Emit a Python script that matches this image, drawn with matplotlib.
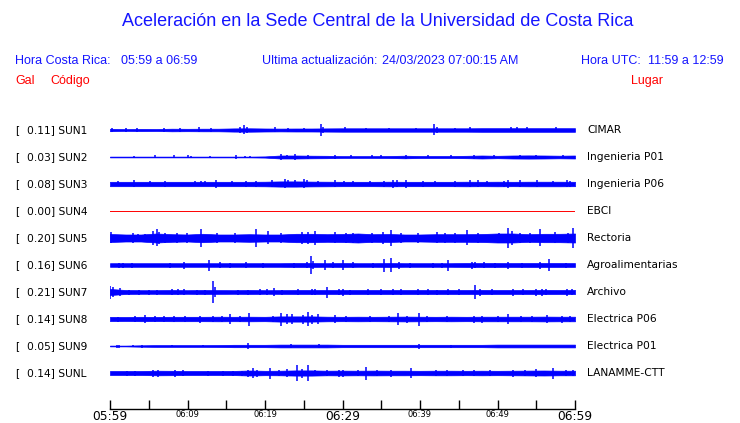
import matplotlib
matplotlib.use("Agg")
import matplotlib.pyplot as plt
from matplotlib.transforms import blended_transform_factory


# station rows, top to bottom
codes = ["SUN1", "SUN2", "SUN3", "SUN4", "SUN5", "SUN6", "SUN7", "SUN8", "SUN9", "SUNL"]
gal_values = [0.11, 0.03, 0.08, 0.00, 0.20, 0.16, 0.21, 0.14, 0.05, 0.14]
places = ["CIMAR", "Ingenieria P01", "Ingenieria P06", "EBCI", "Rectoria", "Agroalimentarias",
          "Archivo", "Electrica P06", "Electrica P01", "LANAMME-CTT"]

# envelope sample times (minutes after 05:59)
env_minutes = list(range(0, 61, 2))

# half-width of each trace band (pixels), every 2 minutes
env_sun1 = [1.2, 0.9, 1.1, 1.0, 1.3, 1.2, 1.3, 1.3, 1.6, 1.7, 1.5, 1.4, 1.5, 1.5, 1.6, 1.7,
            1.7, 1.7, 1.7, 1.7, 1.7, 1.7, 1.7, 1.7, 1.8, 1.8, 1.8, 1.8, 1.8, 1.8, 1.8]
env_sun2 = [0.4, 0.4, 0.4, 0.4, 0.4, 0.4, 0.4, 0.4, 0.4, 0.4, 0.6, 1.5, 1.5, 1.3, 1.2, 0.9,
            0.9, 0.9, 1.0, 1.3, 1.0, 1.0, 1.0, 1.2, 1.5, 1.2, 1.5, 1.6, 1.5, 1.3, 1.5]
env_sun3 = [2.2, 2.2, 2.2, 2.2, 2.2, 2.2, 2.2, 2.2, 2.2, 2.2, 2.3, 2.6, 2.6, 2.4, 2.3, 2.2,
            2.2, 2.2, 2.3, 2.2, 2.2, 2.2, 2.2, 2.3, 2.2, 2.3, 2.2, 2.3, 2.3, 2.3, 2.2]
env_sun4 = [0.4] * 31
env_sun5 = [4.0, 3.5, 3.5, 4.5, 3.8, 3.5, 4.2, 3.5, 3.5, 3.8, 3.5, 3.5, 4.2, 4.2, 3.8, 4.0,
            4.5, 3.8, 4.0, 3.5, 3.5, 3.8, 3.8, 3.8, 4.0, 4.5, 4.5, 3.8, 4.2, 4.2, 4.5]
env_sun6 = [1.8, 1.8, 1.8, 1.8, 1.8, 1.8, 1.8, 1.8, 1.8, 1.8, 1.8, 1.8, 2.0, 2.0, 1.8, 2.0,
            1.8, 1.8, 2.0, 1.8, 1.8, 1.8, 1.8, 2.0, 2.0, 2.0, 1.9, 2.0, 2.0, 2.0, 1.9]
env_sun7 = [3.0, 2.0, 1.8, 1.8, 2.0, 1.8, 2.0, 1.9, 1.8, 2.0, 1.8, 1.9, 2.0, 2.0, 2.0, 2.0,
            2.0, 2.0, 2.0, 2.0, 2.0, 2.0, 2.0, 2.0, 2.1, 2.0, 2.0, 2.0, 2.1, 2.0, 2.1]
env_sun8 = [2.1, 2.0, 2.2, 2.1, 2.2, 2.2, 2.2, 2.3, 2.2, 2.3, 2.2, 2.6, 2.6, 2.6, 2.3, 2.2,
            2.3, 2.2, 2.3, 2.4, 2.3, 2.2, 2.3, 2.2, 2.3, 2.3, 2.3, 2.3, 2.4, 2.3, 2.3]
env_sun9 = [0.4, 0.4, 0.7, 0.9, 0.9, 0.9, 0.9, 1.0, 1.2, 1.2, 1.2, 1.4, 1.4, 1.4, 1.4, 1.2,
            1.2, 1.2, 1.2, 1.2, 1.2, 1.2, 1.2, 1.2, 1.2, 1.4, 1.4, 1.4, 1.4, 1.4, 1.4]
env_sunl = [2.0, 2.0, 2.0, 2.3, 2.2, 2.0, 2.0, 2.0, 2.1, 2.5, 2.2, 2.3, 2.6, 2.6, 2.3, 2.4,
            2.3, 2.4, 2.3, 2.3, 2.2, 2.3, 2.3, 2.2, 2.3, 2.2, 2.3, 2.4, 2.5, 2.3, 2.3]

# spikes: (minute, half-height in pixels)
spikes_sun1 = [(0.3, 2.0), (2.0, 2.0), (3.5, 2.0), (7.0, 2.2), (9.0, 2.0), (11.5, 2.5), (13.0, 2.0),
               (16.8, 3.0), (17.3, 4.5), (17.7, 3.0), (21.3, 2.5), (23.0, 2.2), (25.0, 2.2),
               (27.2, 6.0), (27.5, 3.0), (30.3, 2.5), (33.0, 2.0), (36.0, 2.0), (39.5, 2.2),
               (41.8, 5.5), (42.2, 3.0), (44.5, 2.0), (46.4, 2.5), (51.8, 2.5), (52.5, 2.5),
               (53.8, 2.5), (57.6, 2.5)]
spikes_sun2 = [(3.1, 1.3), (5.8, 1.5), (8.2, 1.5), (10.0, 1.5), (10.5, 1.3), (12.9, 1.3),
               (16.2, 1.7), (17.4, 1.3), (18.0, 1.3), (22.1, 2.7), (22.8, 2.2), (23.9, 2.7),
               (25.5, 1.8), (29.0, 2.0), (31.1, 1.5), (33.8, 1.5), (35.0, 1.5), (38.2, 1.8),
               (41.0, 1.5), (44.0, 1.5), (47.0, 2.0), (49.5, 1.5), (52.9, 2.0), (55.0, 1.7),
               (58.5, 1.5)]
spikes_sun3 = [(1.0, 2.5), (3.1, 3.5), (5.2, 2.5), (7.1, 3.0), (11.0, 2.5), (11.7, 2.5),
               (12.3, 2.5), (13.7, 3.7), (15.7, 2.5), (17.5, 3.0), (18.8, 3.0), (20.9, 3.5),
               (22.6, 4.5), (23.0, 3.5), (23.9, 3.5), (25.0, 4.5), (25.4, 3.5), (26.9, 2.5),
               (29.0, 3.5), (30.2, 2.5), (31.3, 2.5), (33.5, 2.5), (35.3, 3.0), (36.5, 4.0),
               (37.0, 3.5), (38.2, 4.0), (40.4, 3.0), (41.9, 2.5), (44.5, 3.0), (46.5, 3.5),
               (47.5, 3.5), (48.6, 2.5), (50.8, 3.0), (51.4, 4.0), (52.9, 3.5), (55.1, 3.5),
               (57.2, 2.5), (59.0, 3.5), (59.4, 3.0)]
spikes_sun4 = []
spikes_sun5 = [(0.1, 5.5), (3.0, 4.5), (3.6, 4.0), (4.5, 4.0), (5.6, 7.0), (6.0, 8.5), (6.3, 6.0),
               (7.1, 5.0), (8.6, 4.5), (9.9, 4.5), (11.8, 9.0), (13.8, 4.5), (16.1, 4.5),
               (18.9, 9.0), (20.4, 6.5), (22.1, 4.5), (24.8, 6.0), (25.6, 6.0), (26.5, 7.0),
               (29.0, 5.5), (30.5, 5.0), (31.4, 5.0), (33.8, 4.5), (35.2, 6.0), (36.2, 8.0),
               (37.5, 5.0), (39.8, 4.5), (42.2, 5.5), (43.2, 4.5), (44.5, 4.5), (46.0, 7.5),
               (47.5, 5.0), (50.2, 5.0), (51.4, 10.0), (51.9, 7.0), (52.9, 5.0), (54.2, 5.0),
               (55.5, 8.5), (57.4, 5.5), (59.1, 5.0), (59.8, 10.0)]
spikes_sun6 = [(1.1, 2.5), (1.7, 2.5), (2.8, 2.5), (7.7, 2.5), (9.5, 3.5), (12.8, 5.5),
               (14.2, 3.0), (15.5, 2.5), (17.6, 3.0), (19.8, 2.5), (23.7, 2.5), (25.4, 3.0),
               (25.9, 9.0), (26.2, 4.0), (27.7, 5.0), (28.8, 3.0), (30.1, 5.0), (31.4, 3.0),
               (33.9, 2.5), (35.4, 6.5), (36.3, 7.0), (37.3, 3.5), (38.7, 2.5), (41.7, 2.5),
               (42.8, 2.5), (43.6, 5.5), (46.7, 3.5), (47.1, 3.0), (48.2, 3.0), (49.7, 2.5),
               (51.3, 3.5), (53.2, 2.5), (55.5, 3.5), (56.7, 6.0), (58.9, 2.5)]
spikes_sun7 = [(0.0, 6.5), (0.4, 5.0), (1.3, 4.0), (2.4, 2.5), (3.7, 2.5), (5.0, 2.5), (6.0, 2.5),
               (8.0, 3.0), (8.8, 3.0), (9.5, 3.0), (11.2, 2.5), (12.3, 2.5), (13.3, 11.0),
               (13.6, 5.0), (16.5, 2.5), (17.8, 2.5), (19.4, 3.0), (20.2, 3.0), (21.1, 4.0),
               (22.2, 2.5), (24.3, 3.0), (26.0, 3.0), (26.5, 3.0), (28.0, 5.5), (29.5, 3.0),
               (30.1, 3.5), (31.0, 2.5), (33.3, 3.0), (35.0, 3.0), (36.5, 3.0), (37.5, 3.0),
               (39.8, 3.0), (41.0, 3.0), (42.2, 2.5), (43.6, 3.0), (45.0, 3.0), (47.1, 7.0),
               (47.7, 3.5), (49.3, 3.0), (52.0, 3.5), (53.3, 3.0), (55.0, 3.5), (55.8, 3.5),
               (56.3, 3.0), (59.0, 3.5), (59.6, 3.0)]
spikes_sun8 = [(1.0, 2.5), (3.2, 3.0), (4.5, 4.0), (5.8, 3.0), (7.0, 3.0), (8.3, 3.0), (9.7, 3.0),
               (11.6, 3.5), (13.3, 3.0), (14.5, 3.0), (15.5, 5.0), (16.8, 3.0), (17.9, 6.5),
               (21.0, 3.0), (22.1, 6.5), (22.8, 5.0), (23.5, 5.0), (24.9, 4.5), (25.6, 7.0),
               (26.0, 4.5), (26.9, 5.0), (29.0, 4.0), (30.5, 3.0), (33.5, 3.0), (36.0, 3.0),
               (37.1, 6.0), (38.3, 3.5), (39.9, 6.5), (40.9, 3.0), (43.5, 3.0), (47.0, 3.5),
               (48.0, 3.5), (50.0, 3.0), (51.4, 5.0), (53.0, 3.0), (54.5, 3.0), (56.4, 4.0),
               (58.3, 3.5), (59.4, 3.0)]
spikes_sun9 = [(0.9, 1.5), (1.2, 1.5), (3.0, 1.3), (4.1, 1.5), (8.0, 1.3), (12.0, 1.3),
               (17.8, 3.0), (23.4, 2.0), (27.0, 1.8), (39.9, 2.5), (44.0, 1.5)]
spikes_sunl = [(2.2, 2.5), (3.2, 2.5), (5.5, 3.5), (6.2, 3.5), (8.4, 3.5), (9.4, 3.0), (12.7, 2.5),
               (14.6, 2.5), (15.9, 2.5), (17.0, 2.5), (17.8, 3.5), (18.4, 5.0), (19.0, 3.5),
               (20.6, 5.5), (21.8, 3.0), (22.8, 4.0), (24.1, 8.0), (24.8, 4.5), (25.6, 8.0),
               (26.5, 3.0), (28.0, 3.0), (29.5, 3.5), (30.1, 3.5), (32.0, 3.0), (33.0, 6.5),
               (34.5, 3.0), (36.2, 3.5), (38.9, 5.0), (42.0, 3.0), (43.5, 3.0), (45.5, 3.0),
               (47.0, 3.0), (49.0, 3.0), (52.0, 3.5), (53.5, 3.0), (55.0, 4.0), (57.2, 5.5),
               (58.8, 3.0), (59.8, 3.0)]

envelopes = [env_sun1, env_sun2, env_sun3, env_sun4, env_sun5, env_sun6, env_sun7, env_sun8, env_sun9, env_sunl]
spikes = [spikes_sun1, spikes_sun2, spikes_sun3, spikes_sun4, spikes_sun5, spikes_sun6,
          spikes_sun7, spikes_sun8, spikes_sun9, spikes_sunl]

tick_minutes = list(range(0, 61, 5))
tick_labels = ["05:59", "", "06:09", "", "06:19", "", "06:29", "", "06:39", "", "06:49", "", "06:59"]
big_ticks = ["05:59", "06:29", "06:59"]

W, H = 740, 423
ROW_PX = 27.0
BLUE = "#0000ff"
TEXT_BLUE = "#1515ff"


def fx(px):
    return px / W


def fy(py):
    return 1 - py / H


def draw_header(fig):
    font = "Liberation Sans"
    fig.text(fx(378), fy(22), "Aceleración en la Sede Central de la Universidad de Costa Rica",
             ha="center", va="center", fontsize=13, color=TEXT_BLUE, family=font)
    fig.text(fx(15), fy(61), "Hora Costa Rica:", va="center", fontsize=9, color=TEXT_BLUE, family=font)
    fig.text(fx(121), fy(61), "05:59 a 06:59", va="center", fontsize=9, color=TEXT_BLUE, family=font)
    fig.text(fx(262), fy(61), "Ultima actualización:", va="center", fontsize=9, color=TEXT_BLUE, family=font)
    fig.text(fx(382), fy(61), "24/03/2023 07:00:15 AM", va="center", fontsize=9, color=TEXT_BLUE, family=font)
    fig.text(fx(581), fy(61), "Hora UTC:", va="center", fontsize=9, color=TEXT_BLUE, family=font)
    fig.text(fx(724), fy(61), "11:59 a 12:59", va="center", ha="right", fontsize=9, color=TEXT_BLUE, family=font)
    fig.text(fx(15), fy(81), "Gal", va="center", fontsize=9, color="red", family=font)
    fig.text(fx(50), fy(81), "Código", va="center", fontsize=9, color="red", family=font)
    fig.text(fx(663), fy(81), "Lugar", va="center", ha="right", fontsize=9, color="red", family=font)


def draw_traces(fig):
    top, bottom = 130 - ROW_PX / 2, 373 + ROW_PX / 2
    ax = fig.add_axes([fx(110), fy(bottom), fx(575) - fx(110), (bottom - top) / H])
    ax.set_xlim(0, 60)
    ax.set_ylim(len(codes) - 0.5, -0.5)
    ax.axis("off")

    label_tr = blended_transform_factory(fig.transFigure, ax.transData)
    for row, (code, gal, place) in enumerate(zip(codes, gal_values, places)):
        env = [e / ROW_PX for e in envelopes[row]]
        if code == "SUN4":
            ax.plot([0, 60], [row, row], color="red", lw=0.7)
        else:
            ax.fill_between(env_minutes, [row - e for e in env], [row + e for e in env],
                            facecolor=BLUE, edgecolor=BLUE, lw=0.5)
            if spikes[row]:
                sx = [s[0] for s in spikes[row]]
                sh = [s[1] / ROW_PX for s in spikes[row]]
                ax.vlines(sx, [row - h for h in sh], [row + h for h in sh], color=BLUE, lw=1.1)

        fig_kw = dict(transform=label_tr, va="center", fontsize=7.7, color="black")
        ax.text(fx(15), row, "[", **fig_kw)
        ax.text(fx(27), row, f"{gal:.2f}] {code}", **fig_kw)
        ax.text(fx(587), row, place, **fig_kw)


def draw_time_axis(fig):
    ax = fig.add_axes([fx(110), fy(409), fx(575) - fx(110), 9 / H])
    ax.set_xlim(0, 60)
    ax.set_ylim(0, 1)
    for side in ["top", "left", "right"]:
        ax.spines[side].set_visible(False)
    ax.spines["bottom"].set_linewidth(1.0)
    ax.set_yticks([])
    ax.set_xticks(tick_minutes)
    ax.set_xticklabels(tick_labels)
    ax.tick_params(axis="x", direction="in", length=6.5, width=1.0, pad=1)
    for label in ax.get_xticklabels():
        label.set_fontsize(8.8 if label.get_text() in big_ticks else 6)
    ax.patch.set_alpha(0)


def main():
    fig = plt.figure(figsize=(W / 100, H / 100), dpi=100)
    draw_header(fig)
    draw_traces(fig)
    draw_time_axis(fig)
    fig.savefig("out.png", dpi=100)
    print("Saved plot to 'out.png'")


if __name__ == "__main__":
    main()
